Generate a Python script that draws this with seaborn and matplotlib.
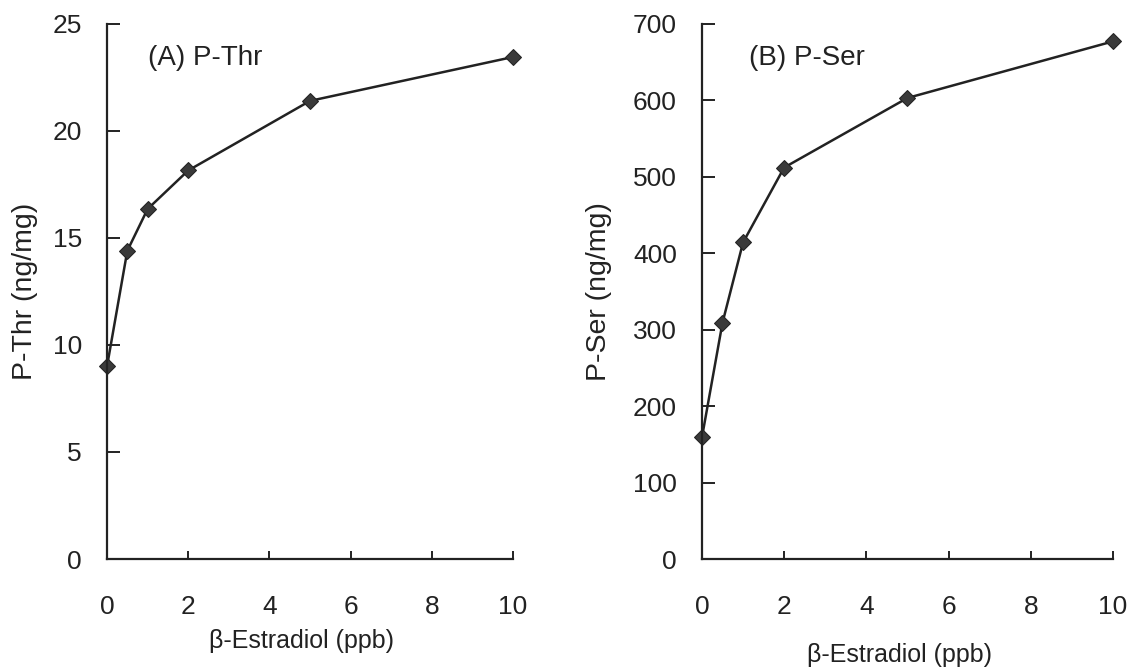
import pandas as pd
import seaborn as sns
import matplotlib.pyplot as plt

# estradiol dose (ppb)
doses = [0, 0.5, 1, 2, 5, 10]
# phospho-threonine and phospho-serine (ng/mg)
p_thr = [9.0, 14.4, 16.35, 18.15, 21.4, 23.45]
p_ser = [159, 309, 414, 512, 603, 677]

sns.set_theme(style="ticks")
plt.rcParams['font.family'] = ['Liberation Sans', 'DejaVu Sans']

ink = "#222222"
fig = plt.figure(figsize=(11.41, 6.69), dpi=100)
ax_a = fig.add_axes([0.0938, 0.1644, 0.3558, 0.800])
ax_b = fig.add_axes([0.6152, 0.1644, 0.3602, 0.800])

# axes, values, name, tag, ymax, step, ylabel x, xlabel y, tag x
panels = [
    (ax_a, p_thr, "P-Thr", "(A) P-Thr", 25, 5, -0.202, -0.153, 0.10),
    (ax_b, p_ser, "P-Ser", "(B) P-Ser", 700, 100, -0.25, -0.179, 0.114),
]

for ax, vals, name, tag, ymax, ystep, ylx, xly, tagx in panels:
    df = pd.DataFrame({"dose": doses, "value": vals})
    sns.lineplot(data=df, x="dose", y="value", ax=ax, color=ink,
                 linewidth=1.8, marker="D", markersize=8.5,
                 markerfacecolor="#3a3a3a", markeredgecolor=ink,
                 clip_on=False)
    ax.set_xlim(0, 10)
    ax.set_ylim(0, ymax)
    ax.set_xticks(range(0, 11, 2))
    ax.set_yticks(range(0, ymax + 1, ystep))
    sns.despine(ax=ax)
    for side in ["left", "bottom"]:
        ax.spines[side].set_linewidth(1.6)
        ax.spines[side].set_color(ink)
    ax.tick_params(axis="x", direction="in", length=6, width=1.4,
                   pad=26, labelsize=19, colors=ink)
    ax.tick_params(axis="y", direction="in", length=9, width=1.4,
                   pad=18, labelsize=19, colors=ink)
    ax.set_xlabel("β-Estradiol (ppb)", fontsize=18, color=ink, va="center")
    ax.xaxis.set_label_coords(0.48, xly)
    ax.set_ylabel(f"{name} (ng/mg)", fontsize=20.5, color=ink, va="center")
    ax.yaxis.set_label_coords(ylx, 0.5)
    ax.text(tagx, 0.936, tag, transform=ax.transAxes, fontsize=20,
            color=ink, va="center", ha="left")

fig.savefig("out.png", dpi=100, facecolor="white")
